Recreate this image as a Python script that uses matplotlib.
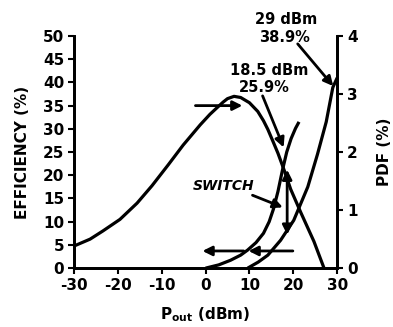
import matplotlib as mpl
mpl.use('Agg')
import matplotlib.pyplot as plt

# bell-shaped PDF of output power (right axis, %)
pdf_x = [-30, -26.3, -23.4, -19.5, -15.6, -12.2, -8.5, -5.1, -1.2, 1.0, 2.7, 4.0,
         5.0, 6.5, 8.0, 10, 11.9, 13.2, 14.2, 15.5, 16.5, 18, 19.4, 21.7, 24.7, 27.0]
pdf_y = [0.38, 0.50, 0.64, 0.84, 1.12, 1.42, 1.78, 2.12, 2.47, 2.65, 2.77, 2.86,
         2.92, 2.96, 2.94, 2.85, 2.70, 2.54, 2.39, 2.16, 1.98, 1.67, 1.36, 0.96, 0.46, 0.0]

# efficiency, low power mode (left axis, %)
low_x = [0, 3, 5.7, 8, 9.6, 11.5, 13.2, 14.5, 15.5, 16.5, 17.5, 18.5, 19.5, 20.5, 21.3]
low_eff = [0, 0.7, 1.7, 2.8, 3.9, 5.5, 7.5, 10.0, 12.8, 16.5, 21.0, 25.0, 27.9, 30.1, 31.5]

# efficiency, high power mode (left axis, %)
high_x = [9.6, 12, 14.2, 17.1, 20.1, 23.3, 25.5, 27.5, 29, 30]
high_eff = [0, 1.3, 2.8, 6.0, 10.3, 17.5, 24.5, 31.5, 38.9, 41.0]

x_ticks = [-30, -20, -10, 0, 10, 20, 30]
eff_ticks = [0, 5, 10, 15, 20, 25, 30, 35, 40, 45, 50]
pdf_ticks = [0, 1, 2, 3, 4]

plt.rcParams['font.family'] = 'DejaVu Sans'
plt.rcParams['font.weight'] = 'bold'
plt.rcParams['mathtext.default'] = 'bf'
plt.rcParams['axes.unicode_minus'] = False

fig = plt.figure(figsize=(3.93, 3.27), dpi=100)
ax = fig.add_axes([0.188, 0.180, 0.670, 0.710])
ax2 = ax.twinx()

line_kw = dict(color='black', lw=2.3, solid_capstyle='butt', solid_joinstyle='round')
ax.plot(low_x, low_eff, **line_kw)
ax.plot(high_x, high_eff, **line_kw)
ax2.plot(pdf_x, pdf_y, **line_kw)

ax.set_xlim(-30, 30)
ax.set_ylim(0, 50)
ax2.set_ylim(0, 4)
ax.set_xticks(x_ticks)
ax.set_yticks(eff_ticks)
ax2.set_yticks(pdf_ticks)

for a in (ax, ax2):
    a.spines['top'].set_visible(False)
    for s in a.spines.values():
        s.set_linewidth(2)
    a.tick_params(direction='out', length=4, width=1.5, labelsize=11, pad=3)

ax.set_ylabel('EFFICIENCY (%)', fontsize=11, fontweight='bold', labelpad=9)
ax2.set_ylabel('PDF (%)', fontsize=11, fontweight='bold', labelpad=14)
ax.set_xlabel('P$_{out}$ (dBm)', fontsize=11, fontweight='bold', labelpad=9)

arrow = dict(arrowstyle='-|>', lw=2, color='black', mutation_scale=14,
             shrinkA=0, shrinkB=0)

# annotation labels
ax.text(18.3, 53.6, '29 dBm', ha='center', va='center', fontsize=10.5,
        fontweight='bold', clip_on=False)
ax.text(18.1, 49.6, '38.9%', ha='center', va='center', fontsize=10.5,
        fontweight='bold', clip_on=False)
ax.annotate('', xy=(29.1, 39.2), xytext=(21.0, 48.3), arrowprops=arrow,
            annotation_clip=False)

ax.text(14.6, 42.5, '18.5 dBm', ha='center', va='center', fontsize=10.5,
        fontweight='bold')
ax.text(13.5, 38.8, '25.9%', ha='center', va='center', fontsize=10.5,
        fontweight='bold')
ax.annotate('', xy=(17.8, 26.0), xytext=(13.0, 37.1), arrowprops=arrow)

ax.text(4.1, 17.6, 'SWITCH', ha='center', va='center', fontsize=10,
        fontweight='bold', style='italic')
ax.annotate('', xy=(17.6, 13.1), xytext=(10.7, 15.7), arrowprops=arrow)

# switch double arrow
ax.annotate('', xy=(18.6, 7.2), xytext=(18.6, 21.2),
            arrowprops=dict(arrowstyle='<|-|>', lw=2, color='black',
                            mutation_scale=14, shrinkA=0, shrinkB=0))

# axis pointer arrows
ax.annotate('', xy=(8.4, 35.0), xytext=(-2.3, 35.0), arrowprops=arrow)
ax.annotate('', xy=(-0.7, 3.7), xytext=(8.7, 3.7), arrowprops=arrow)
ax.annotate('', xy=(9.8, 3.7), xytext=(19.9, 3.7), arrowprops=arrow)

plt.savefig('out.png', dpi=100)
